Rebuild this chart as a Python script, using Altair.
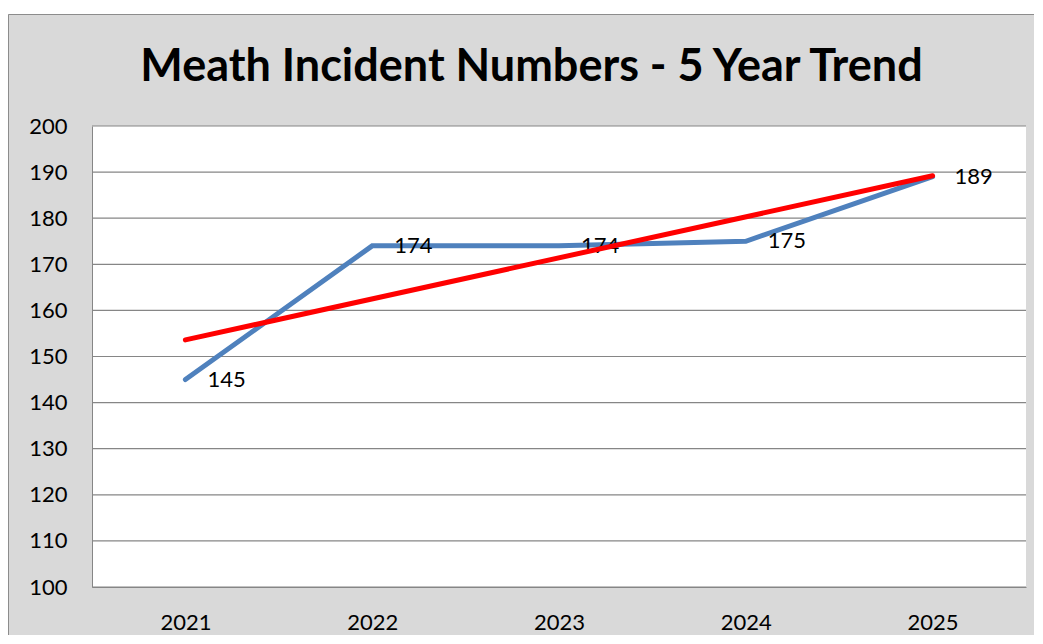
import altair as alt
import pandas as pd

years = [2021, 2022, 2023, 2024, 2025]
incidents = [145, 174, 174, 175, 189]
y_ticks = [100, 110, 120, 130, 140, 150, 160, 170, 180, 190, 200]
title_text = "Meath Incident Numbers - 5 Year Trend"

W, H = 934, 461
FONT = "Lato"
L, T = 84, 112          # panel extent to the left / above the plot area
R, B = 8, 48            # panel extent to the right / below the plot area

df = pd.DataFrame({"year": years, "count": incidents})
grid_df = pd.DataFrame({"v": y_ticks})
one = pd.DataFrame({"a": [0]})

xscale = alt.Scale(domain=[2020.5, 2025.5], nice=False, zero=False)
yscale = alt.Scale(domain=[100, 200], nice=False, zero=False)

x_axis = alt.Axis(values=years, format="d", ticks=False, grid=False,
                  labelPadding=25, labelFlush=False, labelOverlap=False,
                  domainColor="#868686", labelFont=FONT, labelFontSize=22,
                  labelColor="black", zindex=1)
y_axis = alt.Axis(values=y_ticks, ticks=False, grid=False, labelPadding=25,
                  labelFlush=False, labelOverlap=False,
                  domainColor="#868686", labelFont=FONT, labelFontSize=22,
                  labelColor="black", zindex=1)

panel = alt.Chart(one).mark_rect(fill="#d9d9d9").encode(
    x=alt.value(-L), x2=alt.value(W + R), y=alt.value(-T), y2=alt.value(H + B)
)
edge_left = alt.Chart(one).mark_rule(color="#8c8c8c", strokeWidth=1).encode(
    x=alt.value(-L + 0.5), y=alt.value(-T + 0.5), y2=alt.value(H + B)
)
edge_top = alt.Chart(one).mark_rule(color="#8c8c8c", strokeWidth=1).encode(
    x=alt.value(-L + 0.5), x2=alt.value(W + R), y=alt.value(-T + 0.5)
)
plotbg = alt.Chart(one).mark_rect(fill="white").encode(
    x=alt.value(0), x2=alt.value(W), y=alt.value(0), y2=alt.value(H)
)
title = alt.Chart(one).mark_text(
    text=title_text, font=FONT, fontSize=45, fontWeight="bold", color="black",
    align="center", baseline="alphabetic"
).encode(x=alt.value(439.5), y=alt.value(-45))

grid = alt.Chart(grid_df).mark_rule(color="#868686", strokeWidth=1.2).encode(
    y=alt.Y("v:Q", scale=yscale, title=None, axis=y_axis), x=alt.value(0), x2=alt.value(W)
)

blue = alt.Chart(df).mark_line(color="#4f81bd", strokeWidth=5, strokeCap="round").encode(
    x=alt.X("year:Q", scale=xscale, title=None, axis=x_axis),
    y=alt.Y("count:Q", scale=yscale, title=None, axis=y_axis),
)

labels = alt.Chart(df).mark_text(
    align="left", baseline="middle", dx=22, font=FONT, fontSize=22, color="black"
).encode(
    x=alt.X("year:Q", scale=xscale, title=None, axis=x_axis),
    y=alt.Y("count:Q", scale=yscale, title=None, axis=y_axis),
    text="count:Q",
)

trend = alt.Chart(df).transform_regression("year", "count").mark_line(
    color="#ff0000", strokeWidth=5, strokeCap="round"
).encode(
    x=alt.X("year:Q", scale=xscale, title=None, axis=x_axis),
    y=alt.Y("count:Q", scale=yscale, title=None, axis=y_axis),
)

chart = alt.layer(panel, edge_left, edge_top, plotbg, title, grid, blue, labels, trend).properties(
    width=W, height=H,
    background="white",
    padding={"left": 0, "top": 6, "right": 0, "bottom": 0},
).configure_view(strokeWidth=0)

chart.save("out.html", embed_options={"renderer": "svg", "actions": False})
